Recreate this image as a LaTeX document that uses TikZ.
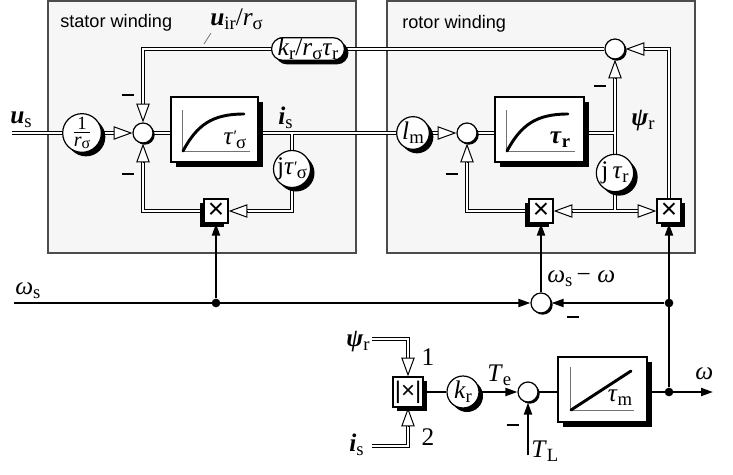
\documentclass[tikz,border=0pt]{standalone}
\usepackage{amsmath}
\usepackage{fontspec}
\setmainfont{Liberation Serif}
\newfontfamily\lsans{Liberation Sans}
\usetikzlibrary{arrows.meta,shadows,calc}
\pgfdeclarelayer{back}
\pgfdeclarelayer{lines}
\pgfsetlayers{back,lines,main}

\newcommand\sbs[1]{\raisebox{-0.35ex}{\fontsize{14}{14}\selectfont\upshape\mdseries #1}}
\newcommand\bv[1]{\textbf{\textit{#1}}}
\newcommand\mt[1]{\textit{#1}}
\newcommand\minusbar{\rule{9.5pt}{2.1pt}}
\newcommand\primesub[1]{{\fontsize{12}{12}\selectfont\upshape\raisebox{0.35ex}{′}}\kern-0.6pt\sbs{#1}}

\tikzset{
 lab/.style={font=\fontsize{19}{19}\selectfont, inner sep=0pt},
 wbox/.style={draw=black!70, fill=black!3.5, line width=0.8pt},
 sumc/.style={circle, draw, fill=white, line width=0.9pt, minimum size=15pt, inner sep=0pt,
   drop shadow={fill=black, opacity=1, shadow xshift=1.3pt, shadow yshift=-1.3pt}},
 gainc/.style={circle, draw, fill=white, line width=0.9pt, inner sep=0pt, font=\fontsize{19}{19}\selectfont,
   drop shadow={fill=black, opacity=1, shadow xshift=3pt, shadow yshift=-3pt}},
 blk/.style={rectangle, draw, fill=white, line width=1pt, inner sep=0pt,
   drop shadow={fill=black, opacity=1, shadow xshift=3.75pt, shadow yshift=-3.75pt}},
 xbox/.style={rectangle, draw, fill=white, line width=1pt, inner sep=0pt, minimum size=18pt,
   font=\lsans\fontsize{21}{21}\selectfont,
   drop shadow={fill=black, opacity=1, shadow xshift=3pt, shadow yshift=-3pt}},
 xboxl/.style={rectangle, draw, fill=white, line width=1pt, inner sep=0pt, minimum size=18pt,
   font=\lsans\fontsize{21}{21}\selectfont,
   drop shadow={fill=black, opacity=1, shadow xshift=-3pt, shadow yshift=-3pt}},
 pill/.style={rectangle, rounded corners=8.5pt, draw, fill=white, line width=0.9pt, minimum height=17pt,
   inner xsep=4.5pt, inner ysep=0pt, font=\fontsize{19}{19}\selectfont,
   drop shadow={fill=black, opacity=1, shadow xshift=3pt, shadow yshift=-3pt}},
 vout/.style={line width=3.3pt, draw=black},
 vin/.style={line width=1.8pt, draw=white},
 vtip/.style={-{Triangle[open, fill=white, length=14pt, width=10pt, line width=0.75pt]}, line width=0.75pt},
 sig/.style={line width=1.5pt},
 sarr/.style={sig, -{Triangle[length=9pt, width=6pt]}},
 dot/.style={circle, fill=black, inner sep=0pt, minimum size=6.5pt},
 ax/.style={draw=black!55, line width=0.6pt},
 crv/.style={line width=2.2pt, line cap=round},
 mbar/.style={inner sep=0pt},
 leader/.style={draw=black!60, line width=0.5pt},
}

\newcommand\vecnet[1]{%
 \draw[#1] (usin) -- (g1.west);
 \draw[#1, shorten >=13pt] (g1.east) -- (sumS.west);
 \draw[#1] (sumS.east) -- (sumS -| blkS.west);
 \draw[#1] (blkS.east |- sumS) -- (lm.west);
 \draw[#1] (brS) -- (jS.north);
 \draw[#1, shorten >=13pt] (jS.south) |- (xS.east);
 \draw[#1, shorten >=13pt] (xS.west) -| (sumS.south);
 \draw[#1, shorten >=13pt] (lm.east) -- (sumR.west);
 \draw[#1] (sumR.east) -- (sumR -| blkR.west);
 \draw[#1] (blkR.east |- sumR) -- (brR);
 \draw[#1, shorten >=13pt] (jR.north) -- (sumT.south);
 \draw[#1] (jR.south) -- (brR2);
 \draw[#1, shorten >=13pt] (brR2) -- (xR1.east);
 \draw[#1, shorten >=13pt] (brR2) -- (xR2.west);
 \draw[#1, shorten >=13pt] (xR1.west) -| (sumR.south);
 \draw[#1, shorten >=13pt] (xR2.north) |- (sumT.east);
 \draw[#1] (sumT.west) -- (pil.east);
 \draw[#1, shorten >=13pt] (pil.west) -| (sumS.north);
 \draw[#1, shorten >=13pt] (psiin) -| (xm.north);
 \draw[#1, shorten >=13pt] (isin) -| (xm.south);
}

\begin{document}
\begin{tikzpicture}[x=0.75pt, y=-0.75pt, line join=miter]
\useasboundingbox (0,0) rectangle (733,475);

% winding frames
\begin{pgfonlayer}{back}
 \path[wbox] (48,1) rectangle (356,253);
 \path[wbox] (387,1) rectangle (695,253);
\end{pgfonlayer}

\node[anchor=base west, inner sep=0pt, font=\lsans\fontsize{13.6}{14}\selectfont] (lstat) at (60,27) {stator winding};
\node[anchor=base west, inner sep=0pt, font=\lsans\fontsize{13.6}{14}\selectfont] (lrot) at (402,28) {rotor winding};
\node[lab, anchor=base west] (luir) at (210,25) {\bv{u}\sbs{ir}/\mt{r}\sbs{σ}};
\coordinate (uirA) at (204,44);
\coordinate (uirB) at (211,33);
\draw[leader] (uirA) -- (uirB);

% coordinates
\coordinate (usin) at (12,133);
\coordinate (brS) at (292,133);
\coordinate (brR) at (615,133);
\coordinate (brR2) at (615,211);
\coordinate (psiin) at (372,339);
\coordinate (isin) at (372,446);
\coordinate (wsin) at (14,303);
\coordinate (TLin) at (528,455);
\coordinate (wout) at (713,392);

% stator nodes
\node[gainc, minimum size=29pt] (g1) at (82,133) {$\frac{\text{\fontsize{14}{14}\selectfont 1}}{\text{\fontsize{15}{15}\selectfont\itshape r\raisebox{-0.3ex}{\fontsize{12}{12}\selectfont\upshape σ}}}$};
\node[sumc] (sumS) at (143,133) {};
\node[blk, minimum width=65.25pt, minimum height=48.75pt] (blkS) at (214.5,129.5) {};
\node[gainc, minimum size=27.5pt] (jS) at (292,169) {j\mt{τ}\primesub{σ}};
\node[xboxl] (xS) at (216,211) {×};
\node[pill] (pil) at (308,49) {\mt{k}\sbs{r}/\mt{r}\sbs{σ}\mt{τ}\sbs{r}};

% rotor nodes
\node[gainc, minimum size=24.5pt] (lm) at (413,133) {\mt{l}\sbs{m}};
\node[sumc] (sumR) at (467,133) {};
\node[blk, minimum width=66.75pt, minimum height=48.75pt] (blkR) at (539.5,129.5) {};
\node[sumc] (sumT) at (615,49) {};
\node[gainc, minimum size=28pt] (jR) at (615,173) {j\,\mt{τ}\sbs{r}};
\node[xboxl] (xR1) at (541,211) {×};
\node[xbox] (xR2) at (669,211) {×};

% mechanical part
\node[sumc] (sumW) at (541,303) {};
\node[dot] (jw1) at (216,303) {};
\node[dot] (jw2) at (669,303) {};
\node[dot] (jw3) at (669,392) {};
\node[xbox, minimum size=22.5pt, font=\lsans\fontsize{18}{18}\selectfont] (xm) at (408,392) {|×|};
\node[gainc, minimum size=24pt] (kr) at (463,392) {\mt{k}\sbs{r}};
\node[sumc] (sumT2) at (528,392) {};
\node[blk, minimum width=66.75pt, minimum height=48.75pt] (blkM) at (602.5,389.5) {};

% double (vector) lines
\begin{pgfonlayer}{lines}
 \vecnet{vout}
 \vecnet{vin}
\end{pgfonlayer}

% hollow tips
\draw[vtip] ([xshift=-14pt]sumS.west) -- (sumS.west);
\draw[vtip] ([yshift=14pt]sumS.north) -- (sumS.north);
\draw[vtip] ([yshift=-14pt]sumS.south) -- (sumS.south);
\draw[vtip] ([xshift=14pt]xS.east) -- (xS.east);
\draw[vtip] ([xshift=-14pt]sumR.west) -- (sumR.west);
\draw[vtip] ([yshift=-14pt]sumR.south) -- (sumR.south);
\draw[vtip] ([xshift=14pt]xR1.east) -- (xR1.east);
\draw[vtip] ([xshift=-14pt]xR2.west) -- (xR2.west);
\draw[vtip] ([yshift=-14pt]sumT.south) -- (sumT.south);
\draw[vtip] ([xshift=14pt]sumT.east) -- (sumT.east);
\draw[vtip] ([yshift=14pt]xm.north) -- (xm.north);
\draw[vtip] ([yshift=-14pt]xm.south) -- (xm.south);

% scalar lines
\draw[sarr] (wsin) -- (sumW.west);
\draw[sarr] (jw1) -- (xS.south);
\draw[sarr] (sumW.north) -- (xR1.south);
\draw[sarr] (jw2) -- (sumW.east);
\draw[sarr] (jw3) -- (xR2.south);
\draw[sig] (xm.east) -- (kr.west);
\draw[sarr] (kr.east) -- (sumT2.west);
\draw[sarr] (TLin) -- (sumT2.south);
\draw[sig] (sumT2.east) -- (sumT2 -| blkM.west);
\draw[sarr] (blkM.east |- sumT2) -- (wout);

% block contents
\draw[ax] (182,110) -- (182,151) -- (250,151);
\draw[crv] (183,151) .. controls (197,125) and (212,114) .. (244,114);
\node[lab] (tauS) at (235,140) {\mt{τ}\primesub{σ}};
\draw[ax] (506,110) -- (506,151) -- (575,151);
\draw[crv] (507,151) .. controls (521,125) and (536,114) .. (568,114);
\node[lab] (tauR) at (560,140) {\bv{τ}\sbs{\bfseries r}};
\draw[ax] (570,367) -- (570,410) -- (634,410);
\draw[crv] (571,410) -- (631,371);
\node[lab] (tauM) at (620,398) {\mt{τ}\sbs{m}};

% labels
\node[lab, anchor=base west] (lus) at (10,123) {\bv{u}\sbs{s}};
\node[lab, anchor=base west] (lis) at (278,124) {\bv{i}\sbs{s}};
\node[lab, anchor=base west] (lpsiR) at (631,125) {\bv{ψ}\sbs{r}};
\node[lab, anchor=base west] (lws) at (15,294) {\mt{ω}\sbs{s}};
\node[lab, anchor=base west] (lwsw) at (547,282) {\mt{ω}\sbs{s}\,− \mt{ω}};
\node[lab, anchor=base west] (lpsi) at (346,346) {\bv{ψ}\sbs{r}};
\node[lab, anchor=base west] (lis2) at (349,451) {\bv{i}\sbs{s}};
\node[lab] (l1) at (428,357) {1};
\node[lab] (l2) at (428,437) {2};
\node[lab, anchor=base west] (lTe) at (487,381) {\mt{T}\sbs{e}};
\node[lab, anchor=base west] (lTL) at (531,457) {\mt{T}\sbs{L}};
\node[lab, anchor=base west] (lw) at (695,379) {\mt{ω}};

% minus signs
\node[mbar] (m1) at (128,95) {\minusbar};
\node[mbar] (m2) at (128,174) {\minusbar};
\node[mbar] (m3) at (600,86) {\minusbar};
\node[mbar] (m4) at (452,174) {\minusbar};
\node[mbar] (m5) at (573,317) {\minusbar};
\node[mbar] (m6) at (513,425) {\minusbar};
\end{tikzpicture}
\end{document}
